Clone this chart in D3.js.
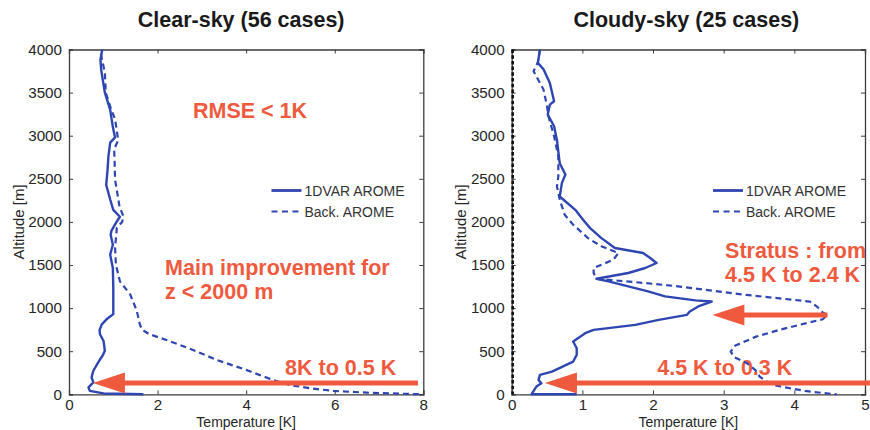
<!DOCTYPE html>
<html><head><meta charset="utf-8">
<script src="https://cdn.jsdelivr.net/npm/d3@7"></script>
<style>body{margin:0;background:#fff}svg{display:block;font-family:"Liberation Sans",Arial,Helvetica,sans-serif}</style>
</head><body><svg id="chart" width="870" height="430"></svg>
<script>
// ---------- DATA ----------
const titles = ["Clear-sky (56 cases)", "Cloudy-sky (25 cases)"];
const seriesNames = ["1DVAR AROME", "Back. AROME"];
const yTicks = [0, 500, 1000, 1500, 2000, 2500, 3000, 3500, 4000];
const xTicksClear = [0, 2, 4, 6, 8];
const xTicksCloudy = [0, 1, 2, 3, 4, 5];
const xLabel = "Temperature [K]";
const yLabel = "Altitude [m]";

// Clear-sky, 1DVAR AROME (altitude m, RMSE K)
const clearVarAlt = [4000,3880,3750,3500,3300,3100,2980,2920,2760,2600,2430,2260,2140,2060,2005,1900,1850,1735,1620,1465,1235,930,880,812,745,696,619,504,450,388,273,196,139,80,40,10,0];
const clearVarT   = [0.75,0.71,0.73,0.81,0.93,0.99,1.04,0.93,0.89,0.87,0.84,0.93,1.00,1.15,1.08,0.96,0.94,0.99,0.93,0.99,1.00,1.00,0.87,0.74,0.69,0.70,0.78,0.81,0.76,0.68,0.55,0.51,0.55,0.44,0.47,0.78,1.68];
// Clear-sky, Back. AROME
const clearBackAlt = [3950,3850,3730,3500,3340,3190,2950,2840,2700,2490,2180,2060,2000,1930,1700,1500,1310,1160,970,810,750,700,630,515,400,283,167,108,70,39,19,0];
const clearBackT   = [0.72,0.76,0.81,0.83,0.93,1.04,1.11,1.02,1.03,1.04,1.14,1.23,1.20,1.08,1.04,1.06,1.15,1.38,1.53,1.60,1.65,1.80,2.20,2.80,3.33,4.00,4.60,4.99,5.44,5.97,6.72,7.96];

// Cloudy-sky, 1DVAR AROME
const cloudyVarAlt = [4000,3845,3770,3610,3400,3360,3245,3110,2950,2680,2550,2450,2295,2140,2024,1928,1812,1697,1639,1581,1523,1465,1407,1340,1310,1195,1136,1090,1076,1019,961,922,864,806,748,709,613,534,457,380,264,225,167,128,90,39,0,0];
const cloudyVarT   = [0.40,0.37,0.45,0.54,0.60,0.54,0.51,0.60,0.64,0.68,0.76,0.71,0.68,0.90,1.01,1.11,1.27,1.46,1.86,1.96,2.05,1.89,1.65,1.20,1.37,1.93,2.17,2.60,2.83,2.64,2.52,2.48,2.08,1.75,1.16,1.04,0.87,0.92,0.92,0.87,0.57,0.40,0.38,0.42,0.35,0.31,0.28,0.92];
// Cloudy-sky, Back. AROME
const cloudyBackAlt = [4000,3850,3748,3535,3342,3226,2993,2760,2528,2412,2257,2083,1967,1812,1716,1639,1562,1465,1407,1340,1290,1250,1153,1076,1018,950,921,870,825,750,669,560,495,430,360,280,205,150,100,70,40,15,0];
const cloudyBackT   = [0.40,0.37,0.31,0.45,0.50,0.52,0.60,0.66,0.66,0.64,0.68,0.75,0.87,1.08,1.27,1.51,1.44,1.16,1.16,1.20,1.90,2.38,3.32,4.22,4.32,4.40,4.47,4.40,4.17,3.80,3.46,3.15,3.10,3.15,3.33,3.45,3.51,3.60,3.75,3.94,4.15,4.40,4.60];

// Annotations (text and arrows, in data units)
const clearNotes = [
  {text: "RMSE < 1K", x: 2.8, y: 3208},
  {text: "Main improvement for", x: 2.17, y: 1385},
  {text: "z < 2000 m", x: 2.17, y: 1107},
  {text: "8K to 0.5 K", x: 4.88, y: 224}
];
const clearArrows = [{from: 7.88, to: 0.54, y: 131}];
const cloudyNotes = [
  {text: "Stratus : from", x: 3.02, y: 1583},
  {text: "4.5 K to 2.4 K", x: 3.02, y: 1305},
  {text: "4.5 K to 0.3 K", x: 2.06, y: 224}
];
const cloudyArrows = [{from: 5.3, to: 0.47, y: 131}, {from: 4.47, to: 2.84, y: 921}];

// ---------- DRAWING ----------
const svg = d3.select("#chart");
const BLUE = "#2f46b2", RED = "#ef5a3e", AX = "#3c3c3c", TXT = "#262626";
const plotTop = 49.5, plotBottom = 394.3;

function panel(cfg) {
  const g = svg.append("g");
  const x = d3.scaleLinear().domain([0, cfg.xmax]).range([cfg.x0, cfg.x1]);
  const y = d3.scaleLinear().domain([0, 4000]).range([plotBottom, plotTop]);
  const cx = (cfg.x0 + cfg.x1) / 2;

  g.append("text").attr("x", cx + cfg.titleDx).attr("y", 27).attr("text-anchor", "middle")
    .attr("font-size", 21.5).attr("font-weight", "bold").attr("fill", "#1a1a1a").text(cfg.title);

  cfg.notes.forEach(n => {
    g.append("text").attr("x", x(n.x)).attr("y", y(n.y)).attr("font-size", 21.5)
      .attr("font-weight", "bold").attr("fill", RED).text(n.text);
  });

  const fmt = d3.format("d");
  const axL = d3.axisLeft(y).tickValues(yTicks).tickSize(-4).tickPadding(7).tickFormat(fmt);
  const axR = d3.axisRight(y).tickValues(yTicks).tickSize(-4).tickFormat("");
  const axB = d3.axisBottom(x).tickValues(cfg.xticks).tickSize(-4).tickPadding(5).tickFormat(fmt);
  const axT = d3.axisTop(x).tickValues(cfg.xticks).tickSize(-4).tickFormat("");
  const ga = [
    g.append("g").attr("transform", `translate(${cfg.x0},0)`).call(axL),
    g.append("g").attr("transform", `translate(${cfg.x1},0)`).call(axR),
    g.append("g").attr("transform", `translate(0,${plotBottom})`).call(axB),
    g.append("g").attr("transform", `translate(0,${plotTop})`).call(axT)
  ];
  ga.forEach(a => {
    a.select(".domain").attr("stroke", AX).attr("stroke-width", 1.3);
    a.selectAll(".tick line").attr("stroke", AX).attr("stroke-width", 1);
    a.selectAll(".tick text").attr("font-size", 15.2).attr("fill", TXT)
      .attr("font-family", '"Liberation Sans",Arial,sans-serif');
  });

  g.append("text").attr("x", cx).attr("y", 426.6).attr("text-anchor", "middle")
    .attr("font-size", 14).attr("fill", TXT).text(xLabel);
  g.append("text").attr("transform", `translate(${cfg.ylabX},${(plotTop + plotBottom) / 2}) rotate(-90)`)
    .attr("text-anchor", "middle").attr("font-size", 15).attr("fill", TXT).text(yLabel);

  if (cfg.zeroLine) {
    g.append("line").attr("x1", x(0) + 1).attr("x2", x(0) + 1).attr("y1", y(4000)).attr("y2", y(0))
      .attr("stroke", "#111").attr("stroke-width", 2.6).attr("stroke-dasharray", "3.5,2.2");
  }

  const line = d3.line().x(d => x(d[1])).y(d => y(d[0]));
  const solid = d3.zip(cfg.varAlt, cfg.varT);
  const dashed = d3.zip(cfg.backAlt, cfg.backT);
  g.append("path").datum(dashed).attr("d", line).attr("fill", "none").attr("stroke", BLUE)
    .attr("stroke-width", 2.2).attr("stroke-dasharray", "6,4");
  g.append("path").datum(solid).attr("d", line).attr("fill", "none").attr("stroke", BLUE)
    .attr("stroke-width", 2.4).attr("stroke-linejoin", "round");

  const lx = cfg.legX, ly = 190.5;
  seriesNames.forEach((name, i) => {
    const yy = ly + i * 21;
    g.append("line").attr("x1", lx).attr("x2", lx + 30).attr("y1", yy).attr("y2", yy)
      .attr("stroke", BLUE).attr("stroke-width", i ? 2.2 : 2.8).attr("stroke-dasharray", i ? "6,4.5" : null);
    g.append("text").attr("x", lx + 33).attr("y", yy + 5).attr("font-size", 14)
      .attr("fill", "#333").text(name);
  });

  cfg.arrows.forEach(a => {
    const xt = x(a.to), xf = x(a.from), yy = y(a.y);
    const headLen = 32, headH = 10.5;
    g.append("line").attr("x1", xf).attr("x2", xt + headLen - 2).attr("y1", yy).attr("y2", yy)
      .attr("stroke", RED).attr("stroke-width", 5);
    g.append("path").attr("d", `M${xt},${yy} L${xt + headLen},${yy - headH} L${xt + headLen},${yy + headH} Z`)
      .attr("fill", RED);
  });
}

panel({x0: 69, x1: 423.3, xmax: 8, xticks: xTicksClear, title: titles[0], titleDx: -5,
  varAlt: clearVarAlt, varT: clearVarT, backAlt: clearBackAlt, backT: clearBackT,
  notes: clearNotes, arrows: clearArrows, legX: 271.5, ylabX: 24, zeroLine: false});
panel({x0: 511.7, x1: 865, xmax: 5, xticks: xTicksCloudy, title: titles[1], titleDx: -2,
  varAlt: cloudyVarAlt, varT: cloudyVarT, backAlt: cloudyBackAlt, backT: cloudyBackT,
  notes: cloudyNotes, arrows: cloudyArrows, legX: 713, ylabX: 466, zeroLine: true});
</script></body></html>
